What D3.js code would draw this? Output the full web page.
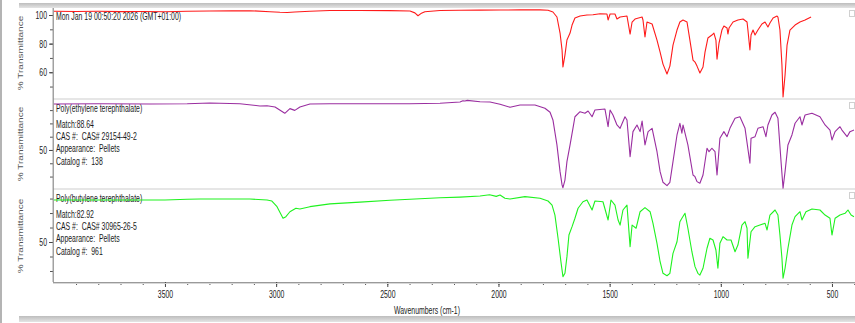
<!DOCTYPE html>
<html>
<head>
<meta charset="utf-8">
<script src="https://cdn.jsdelivr.net/npm/d3@7"></script>
<style>
  body { margin: 0; background: #fff; }
  svg { display: block; font-family: "Liberation Sans", Arial, sans-serif; }
  text { white-space: pre; }
</style>
</head>
<body>
<script>
// spectra: [wavenumber, %T]
const sampleSpectrum = [
  [4000,102.6],[3900,102.5],[3800,102.6],[3700,102.4],[3600,102.5],[3500,102.3],[3400,102.6],[3300,102.8],
  [3200,102.9],[3118,103.0],[3028,102.3],[2983,101.9],[2950,101.8],[2916,102.1],[2848,102.6],[2758,103.2],
  [2623,103.2],[2488,103.1],[2398,102.8],[2376,101.5],[2362,99.5],[2349,101.0],[2331,102.3],[2263,103.2],
  [2173,103.3],[2083,103.4],[1993,103.5],[1903,103.6],[1813,103.6],[1777,103.3],[1755,102.1],[1737,98.6],
  [1723,87.4],[1714,75.5],[1710,63.7],[1701,72.0],[1692,82.5],[1678,87.4],[1669,93.0],[1656,97.9],[1633,99.3],
  [1602,100.0],[1575,100.2],[1543,100.9],[1512,100.7],[1507,96.5],[1498,100.7],[1476,100.7],[1467,97.2],
  [1453,98.6],[1422,99.3],[1408,86.7],[1399,95.1],[1386,97.2],[1354,98.6],[1350,96.5],[1341,84.6],[1332,95.1],
  [1309,93.7],[1287,82.5],[1273,74.1],[1260,65.7],[1242,58.8],[1229,64.3],[1215,79.0],[1197,89.5],[1184,95.1],
  [1170,96.5],[1152,95.1],[1139,82.5],[1125,68.5],[1116,67.1],[1107,64.3],[1094,59.5],[1080,63.7],[1071,74.1],
  [1058,83.9],[1040,86.0],[1031,87.4],[1022,82.5],[1017,69.2],[1008,80.4],[995,89.5],[986,92.3],[972,90.9],
  [968,86.7],[963,90.9],[945,95.1],[923,96.5],[900,97.2],[882,95.1],[878,89.5],[869,75.5],[864,86.0],[855,89.5],
  [846,86.0],[833,89.5],[815,93.7],[801,95.1],[788,91.6],[779,94.4],[765,97.9],[747,99.3],[743,98.6],[734,89.5],
  [725,65.0],[720,42.7],[711,58.1],[702,79.0],[689,89.5],[666,93.0],[644,95.1],[621,96.5],[594,98.6]
];

const petSpectrum = [
  [4000,84.6],[3800,84.8],[3567,84.6],[3400,84.8],[3298,85.3],[3163,84.8],[3073,83.1],[3041,83.3],[3005,82.3],
  [2961,77.6],[2938,81.1],[2916,79.8],[2893,82.3],[2848,84.6],[2758,84.8],[2600,84.8],[2400,84.8],[2263,85.1],
  [2173,86.1],[2160,87.0],[2151,86.8],[2140,87.3],[2083,86.3],[2038,86.1],[1993,84.4],[1948,82.1],[1903,83.8],
  [1836,83.8],[1791,81.4],[1768,78.4],[1755,72.6],[1737,53.8],[1723,33.7],[1714,23.7],[1710,21.6],[1701,27.4],
  [1692,41.2],[1678,53.8],[1665,66.3],[1656,75.0],[1633,78.8],[1611,77.6],[1597,79.3],[1579,75.0],[1566,80.1],
  [1521,80.8],[1507,67.5],[1498,80.1],[1485,76.3],[1467,68.8],[1453,66.3],[1431,75.0],[1422,72.6],[1408,45.0],
  [1395,63.8],[1377,68.8],[1363,63.8],[1354,71.8],[1341,53.8],[1327,63.8],[1309,66.3],[1287,48.7],[1273,33.7],
  [1260,25.7],[1242,23.2],[1229,25.7],[1215,41.2],[1197,61.3],[1184,70.1],[1175,62.6],[1170,68.8],[1148,53.8],
  [1125,31.2],[1116,29.9],[1107,26.2],[1094,25.0],[1080,31.2],[1062,51.3],[1053,48.7],[1040,51.3],[1026,48.7],
  [1017,31.2],[1004,58.8],[986,63.8],[972,60.0],[959,66.3],[936,73.8],[914,75.0],[891,66.3],[869,40.0],
  [864,58.8],[846,60.0],[833,66.3],[810,67.5],[797,60.0],[788,68.8],[770,76.3],[756,78.4],[743,73.8],[729,41.2],
  [720,21.2],[711,33.7],[698,53.8],[680,61.3],[666,70.1],[644,75.0],[635,68.8],[621,76.3],[590,77.6],[554,75.0],
  [531,68.8],[509,65.0],[500,57.5],[486,63.8],[464,67.5],[455,65.0],[432,60.0],[419,63.8],[401,65.0]
];

const pbtSpectrum = [
  [4000,79.0],[3800,79.0],[3567,79.0],[3500,79.0],[3400,79.5],[3342,79.7],[3118,79.7],[3041,79.0],[3019,78.3],
  [2996,74.4],[2969,66.4],[2956,67.5],[2938,70.9],[2911,73.3],[2893,72.8],[2848,74.4],[2758,76.3],[2623,77.5],
  [2488,78.8],[2398,79.5],[2263,80.5],[2173,81.0],[2083,81.8],[2040,82.6],[2010,81.5],[1993,82.4],[1971,80.2],
  [1948,79.7],[1881,81.3],[1813,80.2],[1777,78.3],[1759,75.5],[1746,68.6],[1732,52.6],[1719,36.4],[1710,26.1],
  [1701,28.4],[1692,39.9],[1683,54.8],[1669,60.6],[1656,66.4],[1642,73.3],[1620,77.8],[1602,79.0],[1579,72.1],
  [1566,78.3],[1530,77.8],[1507,65.2],[1494,79.0],[1476,75.5],[1462,65.2],[1453,61.7],[1440,72.1],[1422,75.5],
  [1408,46.8],[1399,61.7],[1381,59.5],[1363,70.9],[1341,73.7],[1318,70.9],[1305,62.9],[1287,49.1],[1273,36.4],
  [1260,28.4],[1242,26.7],[1229,28.4],[1215,42.2],[1197,50.2],[1184,64.0],[1175,66.4],[1161,69.8],[1148,59.5],
  [1130,43.3],[1116,33.0],[1103,28.4],[1094,27.2],[1080,31.9],[1062,45.7],[1049,52.6],[1035,51.4],[1022,44.5],
  [1013,31.9],[1004,49.1],[990,53.7],[972,51.4],[954,51.4],[936,43.3],[923,47.9],[905,61.7],[891,64.0],
  [882,59.5],[878,38.8],[864,57.1],[846,60.6],[824,61.7],[801,62.9],[792,58.3],[779,68.6],[756,72.1],[743,68.6],
  [734,54.8],[725,38.8],[720,25.0],[711,31.9],[698,45.7],[680,61.7],[666,67.5],[644,70.9],[635,65.2],[617,70.9],
  [590,72.8],[554,72.1],[531,68.6],[509,66.4],[500,54.8],[486,66.4],[464,68.6],[441,69.8],[428,72.1],[414,68.6],
  [401,67.5]
];

const xMajorTicks = [3500, 3000, 2500, 2000, 1500, 1000, 500];
const xMinorTicks = d3.range(3900, 399, -100);

const panelTitles = [
  ["Mon Jan 19 00:50:20 2026 (GMT+01:00)"],
  ["Poly(ethylene terephthalate)", "Match:88.64", "CAS #:  CAS# 29154-49-2", "Appearance:  Pellets", "Catalog #:  138"],
  ["Poly(butylene terephthalate)", "Match:82.92", "CAS #:  CAS# 30965-26-5", "Appearance:  Pellets", "Catalog #:  961"]
];
const panelLabels = [[100, 80, 60], [50], [50]];
const panelMinor = [[100, 90, 80, 70, 60, 50], [80, 70, 60, 50, 40, 30], [80, 70, 60, 50, 40, 30]];
const panelDomains = [[42, 104.9], [21.4, 87.6], [22.4, 85.9]];
const seriesColors = ["#ff1a1a", "#9a2ea0", "#1ff21f"];
const yTitle = "% Transmittance";
const xTitle = "Wavenumbers (cm-1)";

const W = 855, H = 323;
const SQ = 0.69; // horizontal squeeze of the original screenshot text
const left = 53.8, right = 854.2, plotBottom = 282;
const panels = [{ top: 8, bottom: 98 }, { top: 100, bottom: 188 }, { top: 190, bottom: 282 }];

const svg = d3.select("body").append("svg").attr("width", W).attr("height", H);

const grad = svg.append("defs").append("linearGradient")
  .attr("id", "band").attr("x1", 0).attr("y1", 0).attr("x2", 0).attr("y2", 1);
grad.append("stop").attr("offset", 0).attr("stop-color", "#bdbdbd");
grad.append("stop").attr("offset", 1).attr("stop-color", "#e4e4e4");

// window chrome
svg.append("rect").attr("x", 0).attr("y", 0).attr("width", 2).attr("height", H).attr("fill", "#b4b4b4");
svg.append("rect").attr("x", 19).attr("y", 3).attr("width", W - 19).attr("height", 5).attr("fill", "url(#band)");
svg.append("rect").attr("x", 19).attr("y", 316).attr("width", W - 19).attr("height", 6).attr("fill", "url(#band)");

const x = d3.scaleLinear().domain([4000, 400]).range([left, right]);

function squeezeText(sel) {
  sel.each(function () {
    const t = d3.select(this);
    const tx = +t.attr("x") || 0, ty = +t.attr("y") || 0;
    t.attr("x", null).attr("y", null)
      .attr("transform", `translate(${tx},${ty}) scale(${SQ},1)`);
  });
}

panels.forEach((p, i) => {
  const y = d3.scaleLinear().domain(panelDomains[i]).range([p.bottom, p.top]);

  // separator band under each panel (except the last)
  if (i < 2) {
    svg.append("rect").attr("x", 53).attr("y", p.bottom).attr("width", W - 53).attr("height", 2)
      .attr("fill", "#e6e6e6");
  }
  // little box at the right
  svg.append("rect").attr("x", 849.5).attr("y", p.top + 2.5).attr("width", 5).attr("height", 6)
    .attr("fill", "none").attr("stroke", "#d0d0d0");

  // y ticks
  const minor = svg.append("g").attr("transform", `translate(${left - 0.8},0)`)
    .call(d3.axisLeft(y).tickValues(panelMinor[i]).tickSize(3).tickFormat(""));
  minor.select(".domain").remove();
  minor.selectAll("line").attr("stroke", "#555");

  const major = svg.append("g").attr("transform", `translate(${left - 0.8},0)`)
    .call(d3.axisLeft(y).tickValues(panelLabels[i]).tickSize(4).tickPadding(2).tickFormat(d3.format("d")));
  major.select(".domain").remove();
  major.selectAll("line").attr("stroke", "#444");
  major.selectAll("text").attr("font-size", 10).attr("fill", "#222")
    .attr("dy", null).attr("y", 3.5);
  major.selectAll("text").each(function () {
    const t = d3.select(this);
    t.attr("transform", `translate(${+t.attr("x")},0) scale(${SQ},1)`).attr("x", 0);
  });

  // y title
  const cy = (p.top + p.bottom) / 2;
  svg.append("text")
    .attr("transform", `translate(23,${cy}) scale(${SQ},1) rotate(-90)`)
    .attr("text-anchor", "middle").attr("font-size", 10).attr("fill", "#555")
    .text(yTitle);

  // panel text
  const lines = panelTitles[i];
  const g = svg.append("g");
  lines.forEach((s, k) => {
    const base = k === 0 ? p.top + 12 : p.top + 28 + (k - 1) * 12.2;
    g.append("text").attr("x", 56).attr("y", base).attr("font-size", 10).attr("fill", "#1a1a1a")
      .attr("xml:space", "preserve").text(s);
  });
  g.selectAll("text").call(squeezeText);
});

// spectra (drawn over the text, like the original)
const spectra = [sampleSpectrum, petSpectrum, pbtSpectrum];
spectra.forEach((data, i) => {
  const p = panels[i];
  const y = d3.scaleLinear().domain(panelDomains[i]).range([p.bottom, p.top]);
  const line = d3.line().x(d => x(d[0])).y(d => y(d[1])).curve(d3.curveLinear);
  svg.append("path").datum(data)
    .attr("fill", "none").attr("stroke", seriesColors[i]).attr("stroke-width", 1.1)
    .attr("stroke-linejoin", "round").attr("d", line);
});

// left axis line and bottom axis
svg.append("line").attr("x1", 53.2).attr("x2", 53.2).attr("y1", 8).attr("y2", plotBottom)
  .attr("stroke", "#8a8a8a").attr("stroke-width", 1.2);

const xMinor = svg.append("g").attr("transform", `translate(0,${plotBottom})`)
  .call(d3.axisBottom(x).tickValues(xMinorTicks).tickSize(3).tickFormat(""));
xMinor.select(".domain").remove();
xMinor.selectAll("line").attr("stroke", "#555");

const xMajor = svg.append("g").attr("transform", `translate(0,${plotBottom})`)
  .call(d3.axisBottom(x).tickValues(xMajorTicks).tickSize(5).tickPadding(4).tickFormat(d3.format("d")));
xMajor.select(".domain").attr("stroke", "#9a9a9a").attr("d", `M53,0.5H${W}`);
xMajor.selectAll("line").attr("stroke", "#444");
xMajor.selectAll("text").attr("font-size", 10).attr("fill", "#222")
  .attr("transform", `scale(${SQ},1)`);
svg.append("line").attr("x1", 53).attr("x2", W).attr("y1", plotBottom + 1.5).attr("y2", plotBottom + 1.5)
  .attr("stroke", "#d8d8d8");

svg.append("text")
  .attr("transform", `translate(427,314) scale(${SQ},1)`)
  .attr("text-anchor", "middle").attr("font-size", 10).attr("fill", "#222")
  .text(xTitle);
</script>
</body>
</html>
